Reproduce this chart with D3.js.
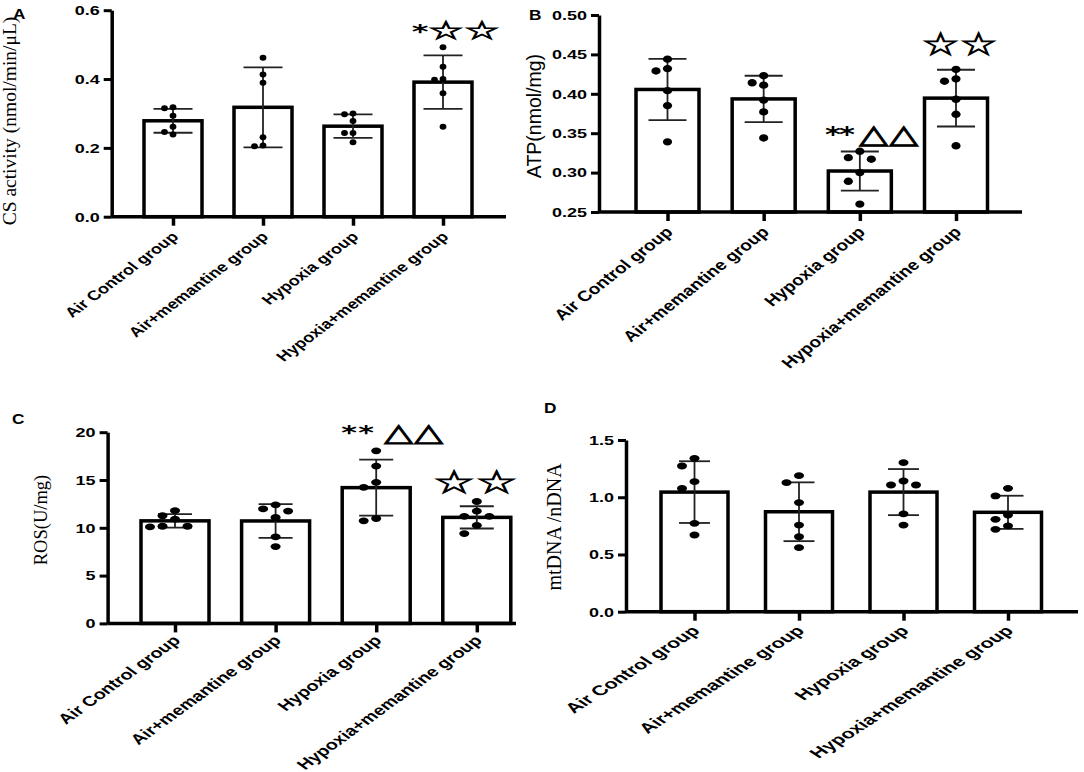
<!DOCTYPE html>
<html>
<head>
<meta charset="utf-8">
<script src="https://cdn.jsdelivr.net/npm/d3@7"></script>
<style>
  body { margin: 0; background: #fff; }
</style>
</head>
<body>
<div id="wrapper"></div>
<script>
const groups = ['Air Control group', 'Air+memantine group', 'Hypoxia group', 'Hypoxia+memantine group']

// six animals per group
const csActivity = [
    [0.318, 0.315, 0.293, 0.261, 0.246, 0.239],
    [0.462, 0.413, 0.389, 0.231, 0.207, 0.205],
    [0.300, 0.298, 0.278, 0.243, 0.243, 0.216],
    [0.492, 0.436, 0.400, 0.398, 0.359, 0.261]
]
const atp = [
    [0.444, 0.432, 0.429, 0.404, 0.385, 0.339],
    [0.423, 0.414, 0.411, 0.392, 0.377, 0.344],
    [0.327, 0.319, 0.317, 0.300, 0.289, 0.260],
    [0.431, 0.419, 0.416, 0.393, 0.374, 0.334]
]
const ros = [
    [11.79, 11.26, 10.90, 10.16, 10.16, 10.09],
    [12.39, 11.97, 11.75, 11.08, 9.06, 8.04],
    [18.05, 16.46, 14.76, 14.23, 10.97, 10.73],
    [12.75, 11.75, 11.20, 11.20, 10.25, 9.40]
]
const mtdna = [
    [1.340, 1.273, 1.136, 1.078, 0.772, 0.670],
    [1.188, 1.127, 0.953, 0.757, 0.655, 0.559],
    [1.302, 1.142, 1.107, 1.107, 0.854, 0.757],
    [1.078, 1.011, 0.845, 0.807, 0.749, 0.720]
]

const csTicks = [0, 0.2, 0.4, 0.6]
const atpTicks = [0.25, 0.30, 0.35, 0.40, 0.45, 0.50]
const rosTicks = [0, 5, 10, 15, 20]
const mtdnaTicks = [0, 0.5, 1.0, 1.5]

// significance marks: [group index, label]
const csMarks = [[3, '*☆☆']]
const atpMarks = [[2, '**△△'], [3, '☆☆']]
const rosMarks = [[2, '**△△'], [3, '☆☆']]
const mtdnaMarks = []

const panels = [
    {
        letter: 'A', lx: 13, ly: 19, data: csActivity, ticks: csTicks, fmt: '.1f',
        title: 'CS activity (nmol/min/μL)', titleFont: 'Liberation Serif', titleSize: 19.5, tx: 16, ty: 121,
        left: 111.7, right: 506, c1: 173, c4: 443, top: 10.2, bottom: 216.7,
        barW: 58, capW: 39, rx: 3.4, ry: 3.0, labSize: 13.7, labSx: 1.33, labY: 21,
        marks: csMarks,
        markPos: [{ v: 0.54, xs: [-23, 3, 39], size: 25, astSize: 20, sx: 1.6 }]
    },
    {
        letter: 'B', lx: 529, ly: 20, data: atp, ticks: atpTicks, fmt: '.2f',
        title: 'ATP(nmol/mg)', titleFont: 'Liberation Sans', titleSize: 19.5, tx: 541, ty: 116,
        left: 599, right: 1022, c1: 667.5, c4: 956, top: 15, bottom: 212,
        barW: 63, capW: 38, rx: 4.6, ry: 3.7, labSize: 15, labSx: 1.27, labY: 21,
        marks: atpMarks,
        markPos: [
            { v: 0.3483, xs: [-27, -13, 14, 44], size: 26, astSize: 21, sx: 1.45 },
            { v: 0.463, xs: [-15.5, 22.5], size: 32, astSize: 21, sx: 1.33 }
        ]
    },
    {
        letter: 'C', lx: 12, ly: 424, data: ros, ticks: rosTicks, fmt: 'd',
        title: 'ROS(U/mg)', titleFont: 'Liberation Serif', titleSize: 18.5, tx: 47, ty: 520,
        left: 107.6, right: 516, c1: 175, c4: 476.8, top: 432.2, bottom: 623.4,
        barW: 68, capW: 34, rx: 5, ry: 3.4, labSize: 14.2, labSx: 1.38, labY: 18,
        marks: rosMarks,
        markPos: [
            { v: 20.0, xs: [-27, -10, 22.4, 52.4], size: 25, astSize: 20, sx: 1.5 },
            { v: 14.8, xs: [-22.8, 19.7], size: 32, astSize: 20, sx: 1.47 }
        ]
    },
    {
        letter: 'D', lx: 544, ly: 413, data: mtdna, ticks: mtdnaTicks, fmt: '.1f',
        title: 'mtDNA /nDNA', titleFont: 'Liberation Serif', titleSize: 20, tx: 561, ty: 527,
        left: 626, right: 1078, c1: 694.5, c4: 1008, top: 440, bottom: 611.7,
        barW: 67, capW: 31, rx: 5, ry: 3.4, labSize: 14, labSx: 1.54, labY: 20,
        marks: mtdnaMarks, markPos: []
    }
]

const tickSx = 1.5
const tickSize = 12

// spread points of one column sideways where they would overlap
function swarm (values, yScale, rx, ry) {
    const ax = rx * 2.5
    const ay = ry * 2.5
    const placed = []
    return values.map(v => {
        const py = yScale(v)
        let off = 0
        for (let k = 0; k < 20; k++) {
            off = k === 0 ? 0 : (k % 2 ? -1 : 1) * Math.ceil(k / 2) * ax
            const free = placed.every(q => ((off - q.dx) / ax) ** 2 + ((py - q.py) / ay) ** 2 >= 1)
            if (free) break
        }
        placed.push({ dx: off, py })
        return { v, dx: off }
    })
}

const svg = d3.select('#wrapper').append('svg')
    .attr('width', 1084)
    .attr('height', 772)
    .style('font-family', 'Liberation Sans, Arial, sans-serif')

function drawPanel (p) {
    const bounds = svg.append('g')

    const x = d3.scalePoint().domain(groups).range([p.c1, p.c4])
    const y = d3.scaleLinear().domain(d3.extent(p.ticks)).range([p.bottom, p.top])

    const stats = p.data.map((vals, i) => ({
        group: groups[i],
        vals,
        mean: d3.mean(vals),
        sd: d3.deviation(vals)
    }))

    // bars
    bounds.selectAll('rect.bar')
        .data(stats)
        .join('rect')
        .attr('class', 'bar')
        .attr('x', d => x(d.group) - p.barW / 2)
        .attr('y', d => y(d.mean))
        .attr('width', p.barW)
        .attr('height', d => y.range()[0] - y(d.mean))
        .attr('fill', '#fff')
        .attr('stroke', '#000')
        .attr('stroke-width', 3.5)

    // mean +- SD
    const err = bounds.selectAll('g.err')
        .data(stats)
        .join('g')
        .attr('class', 'err')
        .attr('stroke', '#222')
        .attr('stroke-width', 1.8)
    err.append('line')
        .attr('x1', d => x(d.group)).attr('x2', d => x(d.group))
        .attr('y1', d => y(d.mean + d.sd)).attr('y2', d => y(d.mean - d.sd))
    err.append('line')
        .attr('x1', d => x(d.group) - p.capW / 2).attr('x2', d => x(d.group) + p.capW / 2)
        .attr('y1', d => y(d.mean + d.sd)).attr('y2', d => y(d.mean + d.sd))
    err.append('line')
        .attr('x1', d => x(d.group) - p.capW / 2).attr('x2', d => x(d.group) + p.capW / 2)
        .attr('y1', d => y(d.mean - d.sd)).attr('y2', d => y(d.mean - d.sd))

    // individual animals
    stats.forEach(s => {
        bounds.append('g')
            .selectAll('ellipse')
            .data(swarm(s.vals, y, p.rx, p.ry))
            .join('ellipse')
            .attr('cx', d => x(s.group) + d.dx)
            .attr('cy', d => y(d.v))
            .attr('rx', p.rx)
            .attr('ry', p.ry)
            .attr('fill', '#000')
    })

    // y axis
    const yAxis = bounds.append('g')
        .attr('transform', `translate(${p.left},0)`)
        .call(d3.axisLeft(y).tickValues(p.ticks).tickSize(8).tickSizeOuter(0).tickFormat(d3.format(p.fmt)))
    yAxis.select('.domain').attr('stroke', '#000').attr('stroke-width', 3.5)
    yAxis.selectAll('.tick line').attr('stroke', '#000').attr('stroke-width', 3)
    yAxis.selectAll('.tick text')
        .attr('x', -tickSize / tickSx)
        .attr('dy', '0.36em')
        .attr('transform', `scale(${tickSx},1)`)
        .attr('fill', '#000')
        .style('font-family', 'Liberation Sans, Arial, sans-serif')
        .style('font-weight', 'bold')
        .style('font-size', '12px')

    // x axis
    bounds.append('line')
        .attr('x1', p.left).attr('x2', p.right)
        .attr('y1', p.bottom).attr('y2', p.bottom)
        .attr('stroke', '#000').attr('stroke-width', 3.5)
    const xAxis = bounds.append('g')
        .attr('transform', `translate(0,${p.bottom})`)
        .call(d3.axisBottom(x).tickSize(9).tickSizeOuter(0))
    xAxis.select('.domain').remove()
    xAxis.selectAll('.tick line').attr('stroke', '#000').attr('stroke-width', 3.5)
    xAxis.selectAll('.tick text')
        .attr('x', 0).attr('y', 0).attr('dy', 0)
        .attr('text-anchor', 'end')
        .attr('transform', `translate(6,${p.labY}) scale(${p.labSx},1) rotate(-45)`)
        .attr('fill', '#000')
        .style('font-family', 'Liberation Sans, Arial, sans-serif')
        .style('font-weight', 'bold')
        .style('font-size', p.labSize + 'px')

    // significance marks, one glyph at a time
    p.marks.forEach(([gi, label], i) => {
        const m = p.markPos[i]
        Array.from(label).forEach((ch, j) => {
            const isAst = ch === '*'
            bounds.append('text')
                .attr('transform', `translate(${x(groups[gi]) + m.xs[j]},${y(m.v)}) scale(${m.sx},1)`)
                .attr('text-anchor', 'middle')
                .attr('dominant-baseline', 'central')
                .attr('fill', '#000')
                .attr('stroke', isAst ? 'none' : '#000')
                .attr('stroke-width', 0.9)
                .style('font-family', 'DejaVu Sans, sans-serif')
                .style('font-weight', isAst ? 'bold' : 'normal')
                .style('font-size', (isAst ? m.astSize : m.size) + 'px')
                .text(ch)
        })
    })

    // axis title
    bounds.append('text')
        .attr('transform', `translate(${p.tx},${p.ty}) rotate(-90)`)
        .attr('text-anchor', 'middle')
        .attr('fill', '#000')
        .style('font-family', p.titleFont)
        .style('font-size', p.titleSize + 'px')
        .text(p.title)

    // panel letter
    bounds.append('text')
        .attr('transform', `translate(${p.lx},${p.ly}) scale(1.15,1)`)
        .style('font-weight', 'bold')
        .style('font-size', '15px')
        .text(p.letter)
}

panels.forEach(drawPanel)
</script>
</body>
</html>
